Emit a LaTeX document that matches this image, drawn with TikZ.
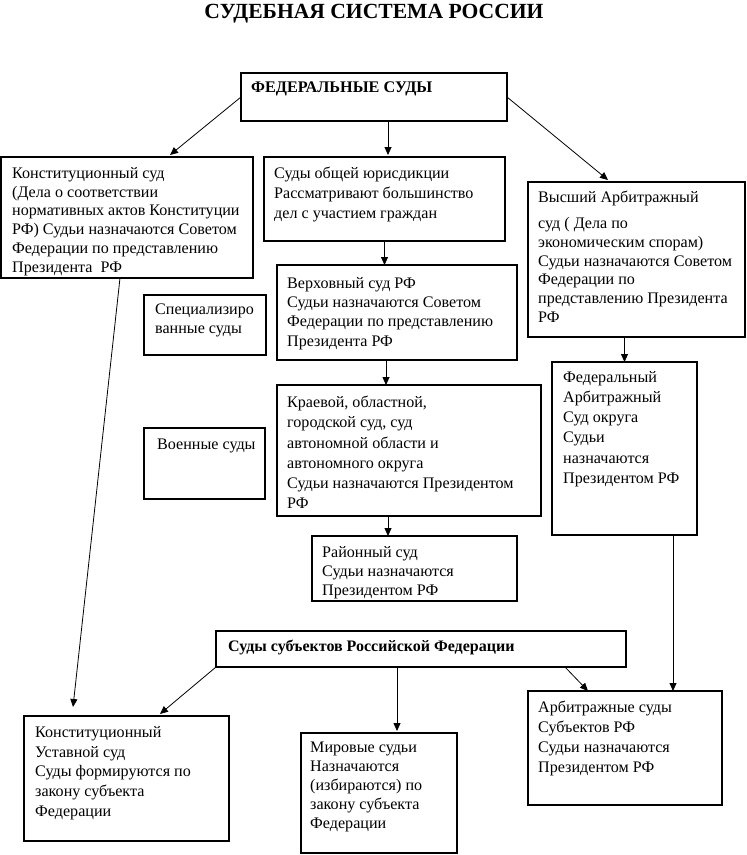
\documentclass[tikz,border=0pt]{standalone}
\usepackage{fontspec}
\setmainfont{Liberation Serif}
\usetikzlibrary{arrows.meta}

\begin{document}
\begin{tikzpicture}[x=1pt, y=-1pt,
    court/.style={draw, line width=1.2pt, inner sep=0pt, outer sep=0pt},
    txt/.style={anchor=north west, align=left, inner sep=0pt,
        font=\fontsize{16.1}{19.5}\selectfont},
    head/.style={anchor=north west, inner sep=0pt,
        font=\fontsize{16}{19}\selectfont\bfseries},
    arr/.style={line width=0.8pt, -{Triangle[length=8pt,width=7pt]}},
    line/.style={line width=0.8pt}]
    \useasboundingbox (0,0) rectangle (747,855);

    % Title
    \node[font=\fontsize{21.6}{24}\selectfont\bfseries] (title) at (374,14) {СУДЕБНАЯ СИСТЕМА РОССИИ};

    % Federal courts
    \node[court, minimum width=266, minimum height=48] (fed) at (374,97) {};
    \node[head, font=\fontsize{16.2}{19}\selectfont\bfseries] (fed-t) at (251,82) {ФЕДЕРАЛЬНЫЕ СУДЫ};

    \node[court, minimum width=252, minimum height=121] (ks) at (127,217.5) {};
    \node[txt, font=\fontsize{16.1}{18.8}\selectfont] (ks-t) at (12,167) {Конституционный суд\\(Дела о соответствии\\нормативных актов Конституции\\РФ) Судьи назначаются Советом\\Федерации по представлению\\Президента \ РФ};

    \node[court, minimum width=241, minimum height=84] (oj) at (384.5,199) {};
    \node[txt, font=\fontsize{16.1}{20}\selectfont] (oj-t) at (274,167) {Суды общей юрисдикции\\Рассматривают большинство\\дел с участием граждан};

    \node[court, minimum width=217, minimum height=155] (vas) at (636.5,259.5) {};
    \node[txt, font=\fontsize{16.1}{18.8}\selectfont] (vas-t) at (538,191) {Высший Арбитражный\\[7pt]суд ( Дела по\\экономическим спорам)\\Судьи назначаются Советом\\Федерации по\\представлению Президента\\РФ};

    \node[court, minimum width=122, minimum height=60] (spec) at (205,325) {};
    \node[txt, font=\fontsize{16.1}{19}\selectfont] (spec-t) at (155,304) {Специализиро\\ванные суды};

    \node[court, minimum width=240, minimum height=95] (vs) at (397,312.5) {};
    \node[txt, font=\fontsize{16.1}{19.3}\selectfont] (vs-t) at (287,277) {Верховный суд РФ\\Судьи назначаются Советом\\Федерации по представлению\\Президента РФ};

    \node[court, minimum width=121, minimum height=71] (voen) at (204.5,463.5) {};
    \node[txt] (voen-t) at (157,439) {Военные суды};

    \node[court, minimum width=264, minimum height=131] (kr) at (409,450.5) {};
    \node[txt, font=\fontsize{16.1}{20.2}\selectfont] (kr-t) at (287,396) {Краевой, областной,\\городской суд, суд\\автономной области и\\автономного округа\\Судьи назначаются Президентом\\РФ};

    \node[court, minimum width=145, minimum height=173] (fas) at (624.5,448.5) {};
    \node[txt, font=\fontsize{16.1}{20.2}\selectfont] (fas-t) at (563,371) {Федеральный\\Арбитражный\\Суд округа\\Судьи\\назначаются\\Президентом РФ};

    \node[court, minimum width=205, minimum height=65] (rs) at (414.5,568.5) {};
    \node[txt, font=\fontsize{16.1}{19}\selectfont] (rs-t) at (322,546) {Районный суд\\Судьи назначаются\\Президентом РФ};

    % Courts of the subjects
    \node[court, minimum width=410, minimum height=36] (subj) at (421,649) {};
    \node[head] (subj-t) at (228,640) {Суды субъектов Российской Федерации};

    \node[court, minimum width=205, minimum height=125] (kus) at (126.5,778.5) {};
    \node[txt, font=\fontsize{16.1}{19.8}\selectfont] (kus-t) at (35,726) {Конституционный\\Уставной суд\\Суды формируются по\\закону субъекта\\Федерации};

    \node[court, minimum width=156, minimum height=120] (mir) at (379,793) {};
    \node[txt, font=\fontsize{16.1}{19}\selectfont] (mir-t) at (310,742) {Мировые судьи\\Назначаются\\(избираются) по\\закону субъекта\\Федерации};

    \node[court, minimum width=194, minimum height=114] (asub) at (625,748) {};
    \node[txt, font=\fontsize{16.1}{20}\selectfont] (asub-t) at (538,701) {Арбитражные суды\\Субъектов РФ\\Судьи назначаются\\Президентом РФ};

    % Connectors
    \draw[arr] (fed.west) -- ([xshift=43pt,yshift=2pt]ks.north);
    \draw[arr] ([xshift=3.5pt]oj.north |- fed.south) -- ([xshift=3.5pt,yshift=2pt]oj.north);
    \draw[arr] (fed.east) -- ([xshift=-28.5pt,yshift=2pt]vas.north);
    \draw[arr] (oj.south) -- (oj.south |- vs.north);
    \draw[arr] ([xshift=-11pt]vs.south) -- ([xshift=-11pt]vs.south |- kr.north);
    \draw[arr] ([xshift=-21pt]kr.south) -- ([xshift=-21pt]kr.south |- rs.north);
    \draw[arr] (fas.north |- vas.south) -- (fas.north);
    \draw[arr] ([xshift=48.5pt]fas.south) -- ([xshift=48.5pt]fas.south |- asub.north);
    \draw[arr] ([xshift=-7pt]ks.south) -- ([xshift=-53.5pt,yshift=9pt]kus.north);
    \draw[arr] (subj.south west) -- ([xshift=33.5pt,yshift=2pt]kus.north);
    \draw[arr] ([xshift=18pt]mir.north |- subj.south) -- ([xshift=18pt,yshift=2pt]mir.north);
    \draw[arr] ([xshift=144pt]subj.south) -- ([xshift=-37pt]asub.north);
\end{tikzpicture}
\end{document}
